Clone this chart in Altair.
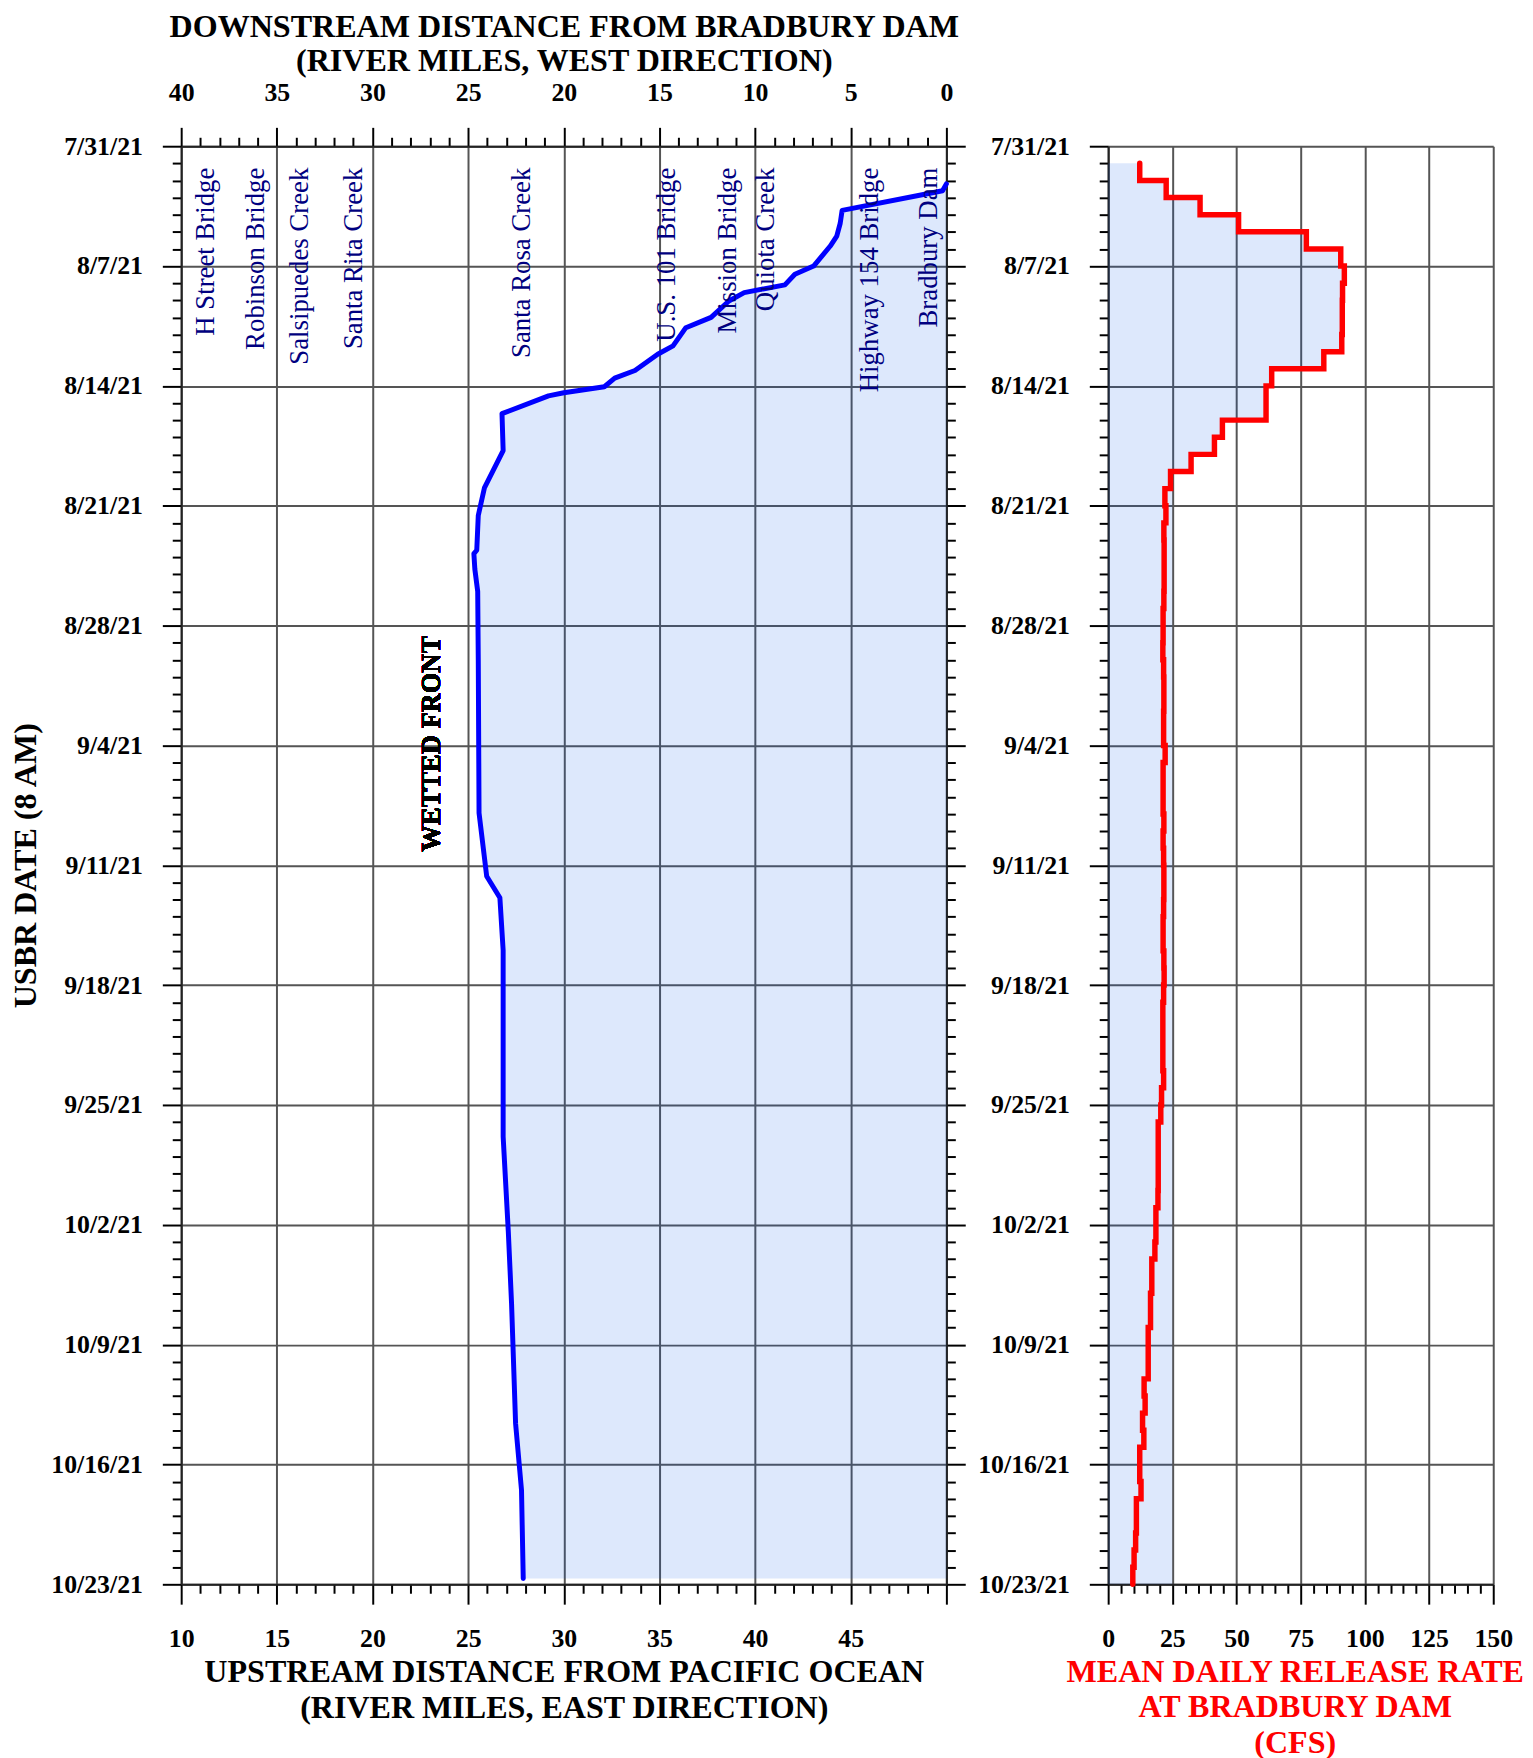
import altair as alt
import pandas as pd

# ---------------- data ----------------
# Wetted front position: days after 7/31/21 8 AM  vs upstream river mile
front_day = [2.2, 2.6, 2.82, 3.75, 4.5, 5.25, 5.83, 7.0, 7.48, 8.1,
             8.55, 9.04, 10.0, 10.6, 11.66, 12.15, 13.1, 13.55, 14.05, 14.4,
             14.58, 15.62, 17.78, 19.96, 21.57, 23.6, 23.8, 24.7, 26.0, 30.0,
             38.95, 42.64, 43.9, 46.97, 57.85, 63.4, 67.6, 74.6, 78.5, 83.66]
front_mile = [50.0, 49.8, 48.8, 44.55, 44.45, 44.27, 43.93, 43.06, 42.08, 41.56,
              39.43, 38.63, 37.7, 36.38, 35.71, 34.91, 33.72, 32.66, 32.12, 30.0,
              29.2, 26.77, 26.83, 25.85, 25.53, 25.45, 25.3, 25.35, 25.5, 25.53,
              25.57, 25.97, 26.66, 26.83, 26.83, 27.1, 27.27, 27.48, 27.79, 27.88]

# Mean daily release at Bradbury Dam (value held from day d to d+1)
release_day = list(range(1, 85))
release_cfs = [12.3, 22.6, 35.8, 50.8, 77.2, 90.6, 92.0, 91.3, 91.2, 91.2,
               91.0, 84.0, 63.7, 61.5, 61.5, 44.5, 41.4, 32.3, 24.3, 22.1,
               22.5, 21.7, 21.8, 21.8, 21.8, 21.7, 21.4, 21.4, 21.3, 21.6,
               21.7, 21.7, 21.6, 21.6, 22.2, 21.4, 21.4, 21.4, 21.7, 21.4,
               21.6, 21.7, 21.7, 21.6, 21.4, 21.4, 21.7, 21.8, 21.6, 21.3,
               21.3, 21.3, 21.3, 21.6, 20.8, 20.5, 19.5, 19.5, 19.5, 19.5,
               19.4, 18.6, 18.6, 18.2, 17.0, 17.0, 16.5, 16.5, 15.6, 15.6,
               15.6, 14.0, 14.4, 13.4, 13.9, 12.3, 12.3, 12.8, 11.0, 11.0,
               10.7, 10.1, 9.6, 9.6]

# Edge of the shaded region in the release panel
shade_day = list(range(1, 20)) + [84]
shade_cfs = [12.3, 22.6, 35.8, 50.8, 77.2, 90.6, 92.0, 91.3, 91.2, 91.2,
             91.0, 84.0, 63.7, 61.5, 61.5, 44.5, 41.4, 32.3, 25, 25]

# Landmarks along the river (upstream river mile)
loc_names = ["H Street Bridge", "Robinson Bridge", "Salsipuedes Creek",
             "Santa Rita Creek", "Santa Rosa Creek", "U.S. 101 Bridge",
             "Mission Bridge", "Quiota Creek", "Highway 154 Bridge", "Bradbury Dam"]
loc_mile = [11.28, 13.9, 16.19, 19.02, 27.8, 35.4, 38.6, 40.55, 46.02, 49.12]

day_ticks = list(range(0, 85))
upstream_ticks = list(range(10, 51))
downstream_ticks = list(range(0, 41))
cfs_ticks = list(range(0, 151, 5))

front_df = pd.DataFrame({"day": front_day, "mile": front_mile})
release_df = pd.DataFrame({"day": release_day, "cfs": release_cfs})
shade_df = pd.DataFrame({"day": shade_day, "cfs": shade_cfs})
loc_df = pd.DataFrame({"name": loc_names, "mile": loc_mile})

# ---------------- styling ----------------
FONT = "Liberation Serif"
TINT = "#0050e6"
TINT_OP = 0.135
NAVY = "#000080"
W_L, W_R, H = 771, 388, 1449
TITLE_SIZE = 32.3


def major(n, big, small):
    return {"expr": f"datum.value % {n} === 0 ? {big} : {small}"}


DATE_LABEL = ("datum.value % 7 === 0 ? "
              "timeFormat(datetime(2021, 6, 31 + datum.value), '%-m/%-d/%y') : ''")

y_scale = alt.Scale(domain=[0, 84], reverse=True, nice=False, zero=False)
xl_scale = alt.Scale(domain=[10, 50], nice=False, zero=False)
xt_scale = alt.Scale(domain=[0, 40], reverse=True, nice=False, zero=False)
xr_scale = alt.Scale(domain=[0, 150], nice=False, zero=False)

y_axis_left = alt.Axis(orient="left", values=day_ticks, tickCount=500, labelExpr=DATE_LABEL,
                       tickSize=major(7, 19, 9), grid=True, gridOpacity=major(7, 1, 0),
                       labelPadding=20, labelOverlap=False,
                       title="USBR DATE (8 AM)", titlePadding=8.5)
y_axis_right_panel = alt.Axis(orient="left", values=day_ticks, tickCount=500,
                              labelExpr=DATE_LABEL,
                              tickSize=major(7, 19, 9), grid=True, gridOpacity=major(7, 1, 0),
                              labelPadding=20, labelOverlap=False, title=None)
y_axis_mirror = alt.Axis(orient="right", values=day_ticks, tickCount=500, labels=False,
                         tickSize=major(7, 19, 9), grid=False, title=None)
x_axis_bottom = alt.Axis(orient="bottom", values=upstream_ticks, tickCount=500, format="d",
                         labelExpr="datum.value % 5 === 0 && datum.value < 50 ? datum.label : ''",
                         tickSize=major(5, 20, 9), grid=True, gridOpacity=major(5, 1, 0),
                         labelPadding=21.7, labelOverlap=False, labelFlush=False,
                         title=["UPSTREAM DISTANCE FROM PACIFIC OCEAN",
                                "(RIVER MILES, EAST DIRECTION)"],
                         titlePadding=4.3, titleLineHeight=36)
x_axis_top = alt.Axis(orient="top", values=downstream_ticks, tickCount=500, format="d",
                      labelExpr="datum.value % 5 === 0 ? datum.label : ''",
                      tickSize=major(5, 19, 9), grid=False,
                      labelPadding=21.6, labelOverlap=False, labelFlush=False,
                      title=["DOWNSTREAM DISTANCE FROM BRADBURY DAM",
                             "(RIVER MILES, WEST DIRECTION)"],
                      titlePadding=3, titleLineHeight=33.5)
x_axis_cfs = alt.Axis(orient="bottom", values=cfs_ticks, tickCount=500, format="d",
                      labelExpr="datum.value % 25 === 0 ? datum.label : ''",
                      tickSize=major(25, 20, 9), grid=True, gridOpacity=major(25, 1, 0),
                      labelPadding=21.7, labelOverlap=False, labelFlush=False,
                      title=["MEAN DAILY RELEASE RATE", "AT BRADBURY DAM", "(CFS)"],
                      titleColor="#ff0000", titlePadding=4.3, titleLineHeight=35.5,
                      titleX=188)

XL = alt.X("mile:Q", scale=xl_scale, axis=x_axis_bottom)
YL = alt.Y("day:Q", scale=y_scale, axis=y_axis_left)

front_fill = alt.Chart(front_df).mark_area(
    orient="horizontal", color=TINT, opacity=TINT_OP
).encode(y=YL, x=XL, x2=alt.datum(50))

front_line = alt.Chart(front_df).mark_line(
    color="#0000ff", strokeWidth=5, strokeJoin="round", strokeCap="round"
).encode(y=YL, x=XL, order="day:Q")

loc_text = alt.Chart(loc_df).mark_text(
    angle=270, align="right", baseline="middle", font=FONT, fontSize=27, color=NAVY
).encode(x=XL, y=alt.datum(1.25), text="name:N")

wetted = alt.Chart(front_df).mark_text(
    text="WETTED FRONT", angle=270, align="center", baseline="middle",
    font=FONT, fontSize=26.7, fontWeight="bold", color="black"
).encode(x=alt.datum(23.14), y=alt.datum(34.9))

mirror = alt.Chart(front_df).transform_calculate(
    down="50 - datum.mile"
).mark_point(opacity=0).encode(
    x=alt.X("down:Q", scale=xt_scale, axis=x_axis_top),
    y=alt.Y("day:Q", scale=y_scale, axis=y_axis_mirror),
)

left = alt.layer(
    alt.layer(front_fill, front_line, loc_text, wetted),
    mirror,
).resolve_scale(x="independent", y="independent").properties(width=W_L, height=H)

XR = alt.X("cfs:Q", scale=xr_scale, axis=x_axis_cfs)
YR = alt.Y("day:Q", scale=y_scale, axis=y_axis_right_panel)

shade = alt.Chart(shade_df).mark_area(
    orient="horizontal", interpolate="step-before", color=TINT, opacity=TINT_OP
).encode(y=YR, x=XR)

release_line = alt.Chart(release_df).mark_line(
    interpolate="step-before", color="#ff0000", strokeWidth=5.5, strokeCap="round"
).encode(y=YR, x=XR, order="day:Q")

right = alt.layer(shade, release_line).properties(width=W_R, height=H)

chart = alt.hconcat(left, right, spacing=11).configure(font=FONT).configure_axis(
    labelFont=FONT, labelFontSize=26, labelFontWeight="bold", labelColor="black",
    titleFont=FONT, titleFontSize=TITLE_SIZE, titleFontWeight="bold", titleColor="black",
    titleLineHeight=35,
    tickColor="black", tickWidth=2, domainColor="#222222", domainWidth=2,
    gridColor="#555555", gridWidth=2,
).configure_view(strokeWidth=0).properties(
    padding={"left": 1.5, "top": -4.4, "right": 0, "bottom": 0}
)

chart.save("out.html", embed_options={"renderer": "svg", "actions": False})
